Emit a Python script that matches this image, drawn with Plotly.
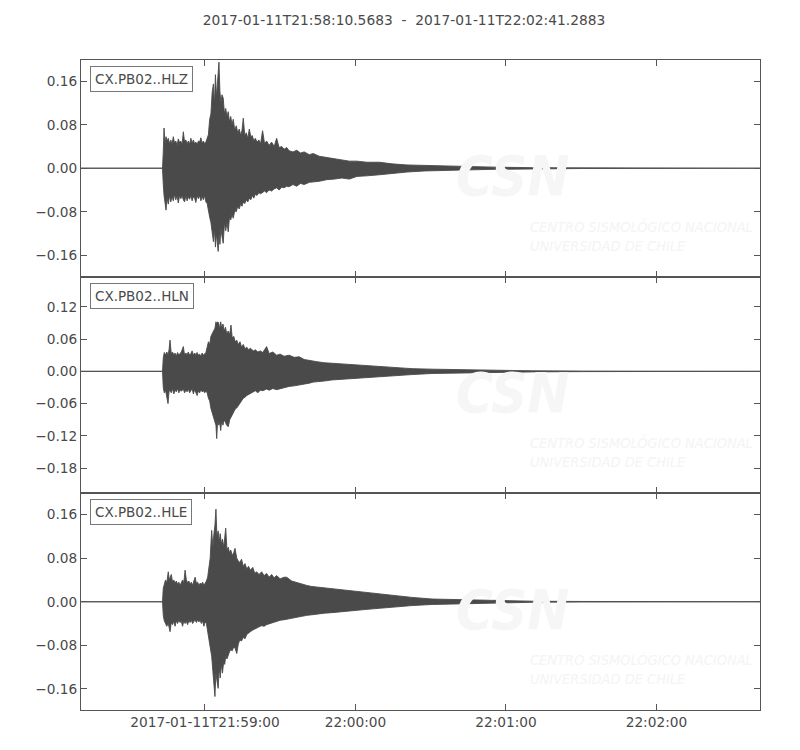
import pandas as pd
import plotly.graph_objects as go
from plotly.subplots import make_subplots

START = "2017-01-11 21:58:10.5683"
END = "2017-01-11 22:02:41.2883"
TITLE = "2017-01-11T21:58:10.5683 \u00a0-\u00a0 2017-01-11T22:02:41.2883"
channels = ["CX.PB02..HLZ", "CX.PB02..HLN", "CX.PB02..HLE"]

# Envelope of each trace:
# (seconds after START, upper amplitude, lower amplitude)
Z_ENV = [
    (0, 0, 0), (32.5, 0, 0), (32.8, 0.03, -0.03), (33.1, 0.074, -0.05), (33.5, 0.045, -0.065),
    (33.9, 0.058, -0.077), (34.3, 0.05, -0.055), (34.8, 0.055, -0.066), (35.3, 0.045, -0.05),
    (35.8, 0.052, -0.062), (36.3, 0.044, -0.052), (36.8, 0.058, -0.06), (37.3, 0.046, -0.048),
    (37.8, 0.05, -0.058), (38.3, 0.042, -0.05), (38.8, 0.054, -0.064), (39.3, 0.047, -0.05),
    (39.8, 0.05, -0.056), (40.3, 0.043, -0.05), (40.8, 0.067, -0.058), (41.3, 0.048, -0.062),
    (41.8, 0.052, -0.05), (42.3, 0.045, -0.06), (42.8, 0.05, -0.052), (43.3, 0.044, -0.057),
    (43.8, 0.055, -0.05), (44.3, 0.046, -0.06), (44.8, 0.052, -0.052), (45.3, 0.045, -0.055),
    (45.8, 0.048, -0.063), (46.3, 0.043, -0.05), (46.8, 0.05, -0.056), (47.3, 0.048, -0.05),
    (47.8, 0.056, -0.06), (48.3, 0.046, -0.052), (48.8, 0.05, -0.058), (49.3, 0.045, -0.05),
    (49.8, 0.048, -0.062), (50.3, 0.055, -0.065), (50.8, 0.062, -0.075), (51.3, 0.09, -0.09),
    (51.8, 0.1, -0.1), (52.3, 0.14, -0.115), (52.8, 0.155, -0.135), (53.2, 0.115, -0.11),
    (53.6, 0.172, -0.145), (54.0, 0.13, -0.12), (54.4, 0.16, -0.135), (54.7, 0.19, -0.153),
    (55.0, 0.195, -0.12), (55.4, 0.14, -0.14), (55.8, 0.12, -0.11), (56.2, 0.135, -0.125),
    (56.7, 0.129, -0.138), (57.2, 0.1, -0.1), (57.7, 0.11, -0.115), (58.2, 0.095, -0.1),
    (58.7, 0.104, -0.117), (59.2, 0.085, -0.09), (59.7, 0.095, -0.095), (60.2, 0.08, -0.085),
    (60.7, 0.09, -0.092), (61.3, 0.07, -0.078), (61.9, 0.078, -0.08), (62.5, 0.065, -0.07),
    (63.1, 0.072, -0.075), (63.7, 0.06, -0.065), (64.2, 0.07, -0.07), (64.7, 0.092, -0.062),
    (65.3, 0.06, -0.065), (65.9, 0.065, -0.058), (66.5, 0.055, -0.062), (67.1, 0.072, -0.055),
    (67.7, 0.058, -0.058), (68.3, 0.06, -0.05), (68.9, 0.05, -0.055), (69.5, 0.055, -0.048),
    (70.2, 0.048, -0.05), (70.9, 0.052, -0.045), (71.6, 0.045, -0.047), (72.4, 0.069, -0.044),
    (73.2, 0.045, -0.042), (74, 0.05, -0.045), (75, 0.042, -0.04), (76, 0.048, -0.042),
    (77, 0.04, -0.038), (78, 0.055, -0.036), (79, 0.038, -0.04), (80, 0.04, -0.035),
    (81, 0.035, -0.036), (82, 0.038, -0.033), (83, 0.032, -0.034), (84.5, 0.03, -0.03),
    (86, 0.033, -0.033), (87.5, 0.028, -0.028), (89, 0.03, -0.03), (91, 0.025, -0.026),
    (92.6, 0.027, -0.025), (95, 0.022, -0.024), (98, 0.02, -0.021), (101, 0.017, -0.02),
    (104, 0.016, -0.018), (107, 0.013, -0.02), (110, 0.013, -0.015), (114, 0.011, -0.014),
    (119, 0.011, -0.012), (124, 0.008, -0.009), (130, 0.006, -0.007), (137, 0.005, -0.005),
    (145, 0.004, -0.004), (155, 0.003, -0.003), (165, 0.002, -0.002), (180, 0.001, -0.001),
    (200, 0.0005, -0.0005), (270.72, 0, 0),
]

N_ENV = [
    (0, 0, 0), (32.5, 0, 0), (32.8, 0.025, -0.03), (33.2, 0.035, -0.04), (33.7, 0.03, -0.035),
    (34.2, 0.036, -0.045), (34.7, 0.03, -0.06), (35.1, 0.04, -0.038), (35.5, 0.058, -0.035),
    (36, 0.032, -0.04), (36.5, 0.036, -0.032), (37, 0.03, -0.042), (37.5, 0.034, -0.035),
    (38, 0.028, -0.038), (38.5, 0.035, -0.032), (39, 0.03, -0.04), (39.5, 0.033, -0.034),
    (40, 0.036, -0.037), (40.8, 0.046, -0.033), (41.3, 0.03, -0.04), (41.8, 0.034, -0.035),
    (42.3, 0.031, -0.038), (42.8, 0.036, -0.033), (43.3, 0.03, -0.04), (43.8, 0.033, -0.036),
    (44.3, 0.038, -0.032), (44.8, 0.03, -0.042), (45.3, 0.034, -0.034), (45.8, 0.031, -0.038),
    (46.3, 0.035, -0.045), (46.8, 0.03, -0.036), (47.3, 0.032, -0.04), (47.8, 0.028, -0.034),
    (48.3, 0.034, -0.038), (48.8, 0.03, -0.036), (49.3, 0.032, -0.04), (49.8, 0.035, -0.037),
    (50.3, 0.045, -0.04), (50.8, 0.055, -0.05), (51.3, 0.05, -0.055), (51.8, 0.065, -0.069),
    (52.3, 0.07, -0.08), (52.8, 0.075, -0.085), (53.4, 0.08, -0.094), (53.8, 0.092, -0.1),
    (54.1, 0.088, -0.125), (54.5, 0.092, -0.09), (54.9, 0.09, -0.1), (55.3, 0.078, -0.095),
    (55.7, 0.092, -0.11), (56.1, 0.08, -0.092), (56.6, 0.088, -0.1), (57.1, 0.075, -0.09),
    (57.6, 0.082, -0.095), (58.1, 0.07, -0.1), (58.7, 0.075, -0.103), (59.3, 0.068, -0.09),
    (59.8, 0.086, -0.085), (60.3, 0.062, -0.08), (60.9, 0.065, -0.075), (61.5, 0.055, -0.07),
    (62.1, 0.058, -0.068), (62.7, 0.05, -0.063), (63.4, 0.055, -0.06), (64, 0.045, -0.055),
    (64.7, 0.05, -0.05), (65.4, 0.042, -0.048), (66.1, 0.045, -0.045), (66.8, 0.04, -0.042),
    (67.5, 0.043, -0.04), (68.7, 0.038, -0.038), (69.5, 0.04, -0.036), (70.5, 0.036, -0.04),
    (71.5, 0.038, -0.035), (72.5, 0.035, -0.036), (74, 0.046, -0.033), (75, 0.033, -0.035),
    (76.5, 0.036, -0.032), (78, 0.03, -0.034), (79.4, 0.032, -0.032), (81, 0.028, -0.03),
    (83, 0.03, -0.028), (85, 0.026, -0.027), (87, 0.027, -0.025), (89, 0.022, -0.024),
    (91, 0.02, -0.022), (92.6, 0.018, -0.02), (94, 0.018, -0.019), (97, 0.016, -0.018),
    (100, 0.015, -0.016), (104, 0.014, -0.015), (108, 0.013, -0.013), (112, 0.011, -0.012),
    (119, 0.009, -0.01), (125, 0.007, -0.008), (132, 0.005, -0.006), (140, 0.004, -0.004),
    (150, 0.003, -0.003), (165, 0.002, -0.002), (180, 0.001, -0.001), (200, 0.0005, -0.0005),
    (270.72, 0, 0),
]

E_ENV = [
    (0, 0, 0), (32.5, 0, 0), (32.8, 0.025, -0.025), (33.2, 0.035, -0.035), (33.7, 0.04, -0.04),
    (34.2, 0.035, -0.045), (34.8, 0.055, -0.04), (35.2, 0.04, -0.045), (35.5, 0.045, -0.055),
    (36, 0.05, -0.038), (36.5, 0.036, -0.042), (37, 0.04, -0.036), (37.5, 0.034, -0.045),
    (38, 0.038, -0.035), (38.5, 0.032, -0.04), (39, 0.036, -0.034), (39.5, 0.03, -0.038),
    (40, 0.034, -0.036), (40.5, 0.04, -0.045), (41, 0.035, -0.035), (41.5, 0.058, -0.04),
    (42, 0.04, -0.036), (42.5, 0.035, -0.042), (43, 0.038, -0.035), (43.5, 0.032, -0.038),
    (44, 0.036, -0.034), (44.5, 0.03, -0.04), (45, 0.038, -0.036), (45.5, 0.045, -0.034),
    (46, 0.034, -0.038), (46.5, 0.036, -0.033), (47, 0.03, -0.037), (47.5, 0.034, -0.034),
    (48, 0.032, -0.04), (48.5, 0.036, -0.035), (49, 0.03, -0.045), (49.5, 0.034, -0.037),
    (50, 0.038, -0.04), (50.5, 0.045, -0.05), (51, 0.06, -0.065), (51.5, 0.08, -0.083),
    (52.1, 0.131, -0.1), (52.6, 0.1, -0.12), (53, 0.125, -0.15), (53.4, 0.14, -0.174),
    (53.8, 0.17, -0.13), (54.2, 0.12, -0.145), (54.7, 0.13, -0.159), (55.1, 0.11, -0.12),
    (55.5, 0.125, -0.14), (56, 0.105, -0.115), (56.4, 0.115, -0.131), (56.9, 0.1, -0.11),
    (57.3, 0.118, -0.115), (57.7, 0.135, -0.1), (58.2, 0.095, -0.105), (58.7, 0.1, -0.1),
    (59.2, 0.09, -0.092), (59.7, 0.095, -0.088), (60.3, 0.085, -0.09), (60.9, 0.09, -0.083),
    (61.4, 0.098, -0.085), (62.1, 0.08, -0.095), (62.7, 0.075, -0.078), (63.3, 0.072, -0.07),
    (64, 0.078, -0.072), (64.7, 0.065, -0.065), (65.4, 0.07, -0.068), (66.1, 0.06, -0.06),
    (66.8, 0.065, -0.058), (67.5, 0.058, -0.055), (68.5, 0.063, -0.052), (69.3, 0.052, -0.05),
    (70, 0.055, -0.048), (71, 0.05, -0.046), (72, 0.055, -0.044), (73, 0.048, -0.045),
    (74, 0.052, -0.042), (75, 0.045, -0.04), (76, 0.05, -0.04), (77, 0.044, -0.038),
    (78, 0.048, -0.036), (79.4, 0.042, -0.034), (81, 0.045, -0.033), (82, 0.045, -0.032),
    (84, 0.038, -0.03), (86, 0.035, -0.028), (88, 0.032, -0.027), (90, 0.03, -0.025),
    (92, 0.028, -0.024), (94, 0.027, -0.022), (97, 0.025, -0.021), (100, 0.023, -0.02),
    (103, 0.022, -0.019), (106, 0.021, -0.018), (110, 0.018, -0.016), (114, 0.016, -0.014),
    (119, 0.014, -0.012), (125, 0.011, -0.009), (132, 0.008, -0.007), (140, 0.005, -0.005),
    (150, 0.004, -0.004), (165, 0.002, -0.002), (180, 0.001, -0.001), (200, 0.0005, -0.0005),
    (270.72, 0, 0),
]

y_ranges = [[-0.1994, 0.199], [-0.2268, 0.176], [-0.1987, 0.199]]
y_ticks = [[-0.16, -0.08, 0.0, 0.08, 0.16], [-0.18, -0.12, -0.06, 0.0, 0.06, 0.12],
           [-0.16, -0.08, 0.0, 0.08, 0.16]]
x_tickvals = ["2017-01-11 21:59:00", "2017-01-11 22:00:00", "2017-01-11 22:01:00", "2017-01-11 22:02:00"]
x_ticktext = ["2017-01-11T21:59:00", "22:00:00", "22:01:00", "22:02:00"]

TXT = "#4a4a4a"
WAVE = "#4a4a4a"
AXC = "#555555"
FONT = "DejaVu Sans"
FS = 13.7

start = pd.Timestamp(START)


def times(ts):
    return [start + pd.to_timedelta(s, unit="s") for s in ts]


def fmt(v):
    return f"{v:.2f}".replace("-", "\u2212")


fig = make_subplots(rows=3, cols=1, shared_xaxes=True, vertical_spacing=0)

for i, env in enumerate([Z_ENV, N_ENV, E_ENV]):
    tt = [r[0] for r in env]
    up = [r[1] for r in env]
    lo = [r[2] for r in env]
    tx = times(tt)
    fig.add_trace(go.Scatter(
        x=tx + tx[::-1], y=up + lo[::-1], mode="lines", fill="toself",
        fillcolor=WAVE, line=dict(color=WAVE, width=0.9), hoverinfo="skip", showlegend=False),
        row=i + 1, col=1)

for i in range(3):
    r = i + 1
    fig.update_yaxes(range=y_ranges[i], tickvals=y_ticks[i], ticktext=[fmt(v) for v in y_ticks[i]],
                     showgrid=False, zeroline=False, showline=True, linecolor=AXC, linewidth=1,
                     mirror="ticks", ticks="inside", ticklen=6, tickcolor=AXC,
                     tickfont=dict(family=FONT, size=FS, color=TXT), row=r, col=1)
    fig.update_xaxes(range=[START, END], type="date", tickvals=x_tickvals,
                     ticktext=x_ticktext, showticklabels=(r == 3),
                     showgrid=False, zeroline=False, showline=True, linecolor=AXC, linewidth=1,
                     mirror="ticks", ticks="inside", ticklen=6, tickcolor=AXC,
                     tickfont=dict(family=FONT, size=FS, color=TXT), row=r, col=1)
    ax = "" if r == 1 else str(r)
    # faint CSN watermark
    fig.add_annotation(xref=f"x{ax} domain", yref=f"y{ax} domain", x=0.549, y=0.465,
                       xanchor="left", yanchor="middle", text="<b><i>CSN</i></b>", showarrow=False,
                       font=dict(family="DejaVu Sans Condensed, " + FONT, size=56, color="#f6f6f6"))
    fig.add_annotation(xref=f"x{ax} domain", yref=f"y{ax} domain", x=0.658, y=0.19,
                       xanchor="left", yanchor="middle",
                       text="<i>CENTRO SISMOLÓGICO NACIONAL<br>UNIVERSIDAD DE CHILE</i>",
                       showarrow=False, align="left",
                       font=dict(family="DejaVu Sans Condensed, " + FONT, size=14.5, color="#f4f4f4"))
    fig.add_annotation(xref=f"x{ax} domain", yref=f"y{ax} domain", x=0.0133, y=0.972,
                       xanchor="left", yanchor="top", text=channels[i], showarrow=False,
                       font=dict(family=FONT, size=13.5, color=TXT), bgcolor="white",
                       bordercolor="#777", borderwidth=1, borderpad=4)

fig.update_layout(
    width=792, height=742, margin=dict(l=73, r=40, t=52, b=40),
    paper_bgcolor="white", plot_bgcolor="white",
    title=dict(text=TITLE, x=0.5, xanchor="center", y=0.984, yanchor="middle",
               font=dict(family=FONT, size=13.8, color=TXT)),
    showlegend=False,
)

fig.write_html("out.html")
